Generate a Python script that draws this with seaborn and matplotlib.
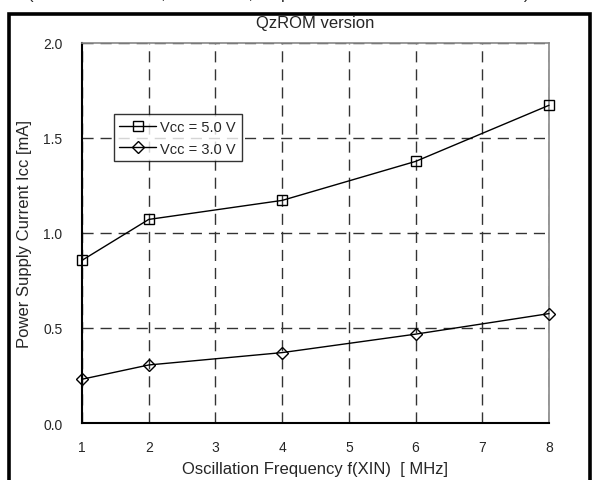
import seaborn as sns
import pandas as pd
import matplotlib
matplotlib.use("Agg")
from matplotlib import pyplot
from matplotlib.patches import Rectangle

freq = [1, 2, 4, 6, 8]
icc_5v = [0.855, 1.07, 1.17, 1.375, 1.67]
icc_3v = [0.23, 0.305, 0.37, 0.467, 0.575]
series_names = ["Vcc = 5.0 V", "Vcc = 3.0 V"]
x_ticks = [1, 2, 3, 4, 5, 6, 7, 8]
y_ticks = [0.0, 0.5, 1.0, 1.5, 2.0]

sns.set_style("white")
pyplot.rcParams['font.family'] = ['Liberation Sans', 'DejaVu Sans']

df = pd.DataFrame({
    'freq': freq * 2,
    'icc': icc_5v + icc_3v,
    'vcc': [series_names[0]] * len(freq) + [series_names[1]] * len(freq),
})

fig = pyplot.figure(figsize=(5.93, 4.81), dpi=100)
ax = fig.add_axes([82 / 593, 1 - 424 / 481, 467 / 593, 380.5 / 481])

ax = sns.lineplot(data=df, x='freq', y='icc', hue='vcc', style='vcc',
                  palette=['black', 'black'], markers=['s', 'D'], dashes=False,
                  markersize=7, markerfacecolor='none', markeredgecolor='black',
                  markeredgewidth=1.0, linewidth=1.0, ax=ax)
for line in ax.lines:
    line.set_clip_on(False)
    line.set_zorder(5)
    if line.get_marker() == 'D':
        line.set_markersize(6)

ax.set_xlim(1, 8)
ax.set_ylim(0, 2)
ax.set_xticks(x_ticks)
ax.set_yticks(y_ticks)
ax.set_xticklabels([str(t) for t in x_ticks])
ax.set_yticklabels(['%.1f' % t for t in y_ticks])
ax.tick_params(axis='both', labelsize=10, length=0, pad=12)
ax.tick_params(axis='y', pad=14)
ax.grid(True, color='#333333', linestyle=(0, (8, 5)), linewidth=1.0)
for side in ['left', 'bottom']:
    ax.spines[side].set_color('black')
    ax.spines[side].set_linewidth(1.5)
for side in ['top', 'right']:
    ax.spines[side].set_color('#888888')
    ax.spines[side].set_linewidth(1.2)
ax.set_xlabel('Oscillation Frequency f(XIN)  [ MHz]', fontsize=12, labelpad=5)
ax.set_ylabel('Power Supply Current Icc [mA]', fontsize=12, labelpad=8)
ax.set_title('QzROM version', fontsize=12, pad=11)

handles, labels = ax.get_legend_handles_labels()
leg = ax.legend(handles, labels, loc='upper left', bbox_to_anchor=(0.052, 0.83),
                fontsize=10.5, frameon=True, fancybox=False, edgecolor='black',
                borderpad=0.4, handlelength=2.5, handletextpad=0.3, labelspacing=0.5)
leg.get_frame().set_linewidth(1.0)

# outer frame (bottom edge runs past the picture)
fig.patches.append(Rectangle((9 / 593, -0.05), 581 / 593, 1.05 - 15 / 481,
                             transform=fig.transFigure, fill=False,
                             edgecolor='black', linewidth=2.6))
# note line above the frame, cut off by the top edge as in the source
fig.text(0.47, 1 - 2 / 481, '(Vcc = 5.0 V/3.0 V, Ta = 25 °C, output transistors are in the off state)',
         ha='center', va='bottom', fontsize=12)

fig.savefig('out.png', dpi=100)
